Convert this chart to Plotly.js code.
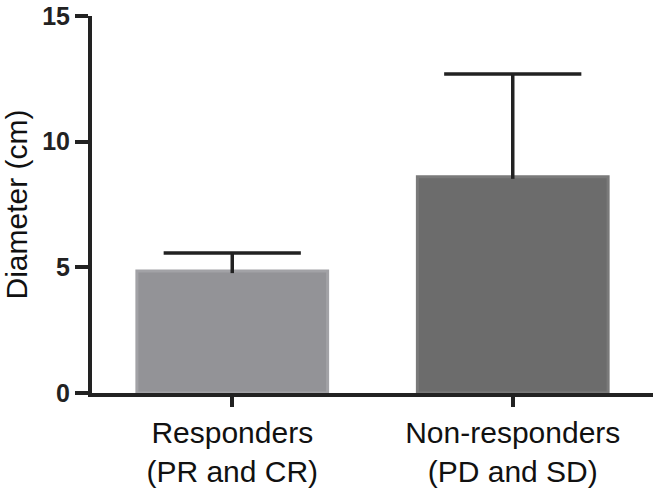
<!DOCTYPE html>
<html>
<head>
<meta charset="utf-8">
<script src="https://cdn.plot.ly/plotly-3.0.1.min.js"></script>
<style>html,body{margin:0;padding:0;background:#fff;}#chart{width:660px;height:492px;}</style>
</head>
<body>
<div id="chart"></div>
<script>
var categories = ["Responders<br>(PR and CR)", "Non-responders<br>(PD and SD)"];
var means = [4.85, 8.6];
var errorsUp = [0.72, 4.09];
var yTickVals = [0, 5, 10, 15];
var yTickText = ["0", "5", "10", "15"];
var barColors = ["#939397", "#6c6c6c"];
var barLineColors = ["#a2a2a6", "#7a7a7a"];

var barTrace = {
  type: "bar",
  x: categories,
  y: means,
  width: 0.68,
  marker: { color: barColors, line: { color: barLineColors, width: 3 } },
  hoverinfo: "none"
};

// error stems: from slightly inside the bar top up to mean + error
var stemX = [], stemY = [];
categories.forEach(function (c, i) {
  stemX.push(c, c, null);
  stemY.push(means[i] - 0.08, means[i] + errorsUp[i], null);
});
var stemTrace = {
  type: "scatter", mode: "lines", x: stemX, y: stemY,
  line: { color: "#222222", width: 3.5 }, hoverinfo: "none", cliponaxis: false
};
var capTrace = {
  type: "scatter", mode: "markers", x: categories,
  y: means.map(function (m, i) { return m + errorsUp[i]; }),
  marker: { symbol: "line-ew", size: 98, color: "#222222", line: { color: "#222222", width: 3.5 } },
  hoverinfo: "none", cliponaxis: false
};

var layout = {
  width: 660, height: 492,
  margin: { l: 92, r: 7, t: 16, b: 99 },
  paper_bgcolor: "#ffffff", plot_bgcolor: "#ffffff",
  font: { family: "Liberation Sans, Arial, sans-serif", color: "#111111" },
  showlegend: false,
  xaxis: {
    type: "category", range: [-0.5, 1.5],
    showline: true, linecolor: "#222222", linewidth: 4,
    ticks: "outside", ticklen: 10, tickwidth: 4, tickcolor: "#222222",
    tickfont: { size: 30, color: "#111111" },
    showgrid: false, zeroline: false, automargin: false
  },
  yaxis: {
    range: [0, 15], tickvals: yTickVals, ticktext: yTickText,
    showline: true, linecolor: "#222222", linewidth: 4,
    ticks: "outside", ticklen: 13, tickwidth: 4, tickcolor: "#222222",
    tickfont: { size: 25, color: "#222222", weight: "bold" },
    showgrid: false, zeroline: false, automargin: false,
    title: { text: "Diameter (cm)", font: { size: 30, color: "#111111" }, standoff: 8 }
  }
};

Plotly.newPlot("chart", [barTrace, stemTrace, capTrace], layout, { staticPlot: true, displayModeBar: false });
</script>
</body>
</html>
